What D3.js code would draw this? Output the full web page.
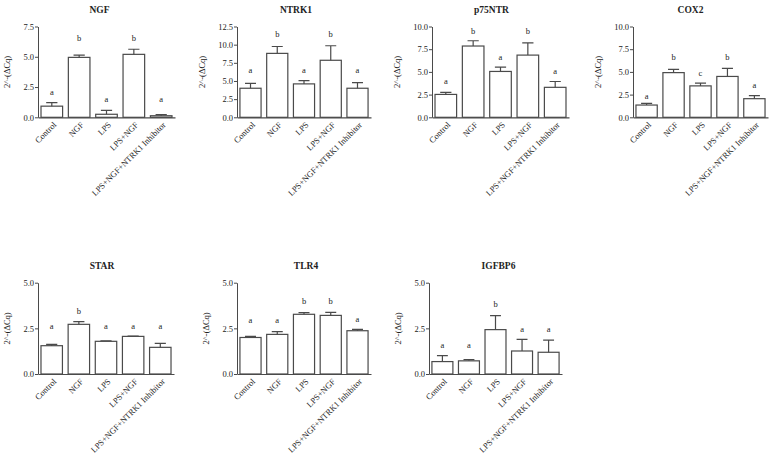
<!DOCTYPE html>
<html>
<head>
<meta charset="utf-8">
<script src="https://cdn.jsdelivr.net/npm/d3@7/dist/d3.min.js"></script>
<style>
  body { margin: 0; background: #fff; }
  svg text { font-family: "Liberation Serif", "DejaVu Serif", serif; fill: #222; }
</style>
</head>
<body>
<div id="chart"></div>
<script>
// groups on the x axis
var groups = ["Control", "NGF", "LPS", "LPS+NGF", "LPS+NGF+NTRK1 Inhibitor"];

// gene panels
var genes   = ["NGF", "NTRK1", "p75NTR", "COX2", "STAR", "TLR4", "IGFBP6"];
var y_max   = [7.5, 12.5, 10, 10, 5, 5, 5];

// mean 2^-(dCq) per group
var means = [
    [0.92, 4.95, 0.25, 5.20, 0.13],
    [4.00, 8.80, 4.60, 7.85, 4.00],
    [2.52, 7.85, 5.05, 6.85, 3.30],
    [1.35, 4.92, 3.46, 4.50, 2.05],
    [1.55, 2.72, 1.79, 2.06, 1.46],
    [2.00, 2.17, 3.27, 3.21, 2.37],
    [0.68, 0.72, 2.43, 1.26, 1.19]
];

// upper error bar (SEM)
var sems = [
    [0.30, 0.18, 0.33, 0.42, 0.10],
    [0.68, 0.95, 0.45, 2.00, 0.76],
    [0.22, 0.58, 0.48, 1.35, 0.64],
    [0.18, 0.36, 0.30, 0.88, 0.33],
    [0.07, 0.15, 0.03, 0.02, 0.22],
    [0.06, 0.15, 0.09, 0.17, 0.07],
    [0.33, 0.07, 0.77, 0.64, 0.66]
];

// significance letters and the value they sit at
var letters = [
    ["a", "b", "a", "b", "a"],
    ["a", "b", "a", "b", "a"],
    ["a", "b", "a", "b", "a"],
    ["a", "b", "c", "b", "a"],
    ["a", "b", "a", "a", "a"],
    ["a", "a", "b", "b", "a"],
    ["a", "a", "b", "a", "a"]
];
var letter_at = [
    [2.03, 6.50, 1.47, 6.50, 1.47],
    [6.50, 11.4, 6.50, 11.4, 6.50],
    [3.90, 9.49, 6.64, 9.49, 5.07],
    [2.26, 6.57, 4.82, 6.57, 3.54],
    [2.63, 3.45, 2.63, 2.63, 2.63],
    [2.92, 2.92, 3.95, 3.95, 3.01],
    [1.57, 1.57, 3.83, 2.45, 2.45]
];

var y_ticks = [0, 2.5, 5, 7.5, 10, 12.5];

// panel placement: axis x range, axis y range, title shift
var layout = [
    {x0: 38,  x1: 175, y0: 26.5,  y1: 117.3, tx: -7},
    {x0: 237, x1: 371, y0: 26.5,  y1: 117.3, tx: -8},
    {x0: 432, x1: 569, y0: 26.5,  y1: 117.3, tx: -9},
    {x0: 633, x1: 768, y0: 26.5,  y1: 117.3, tx: -10},
    {x0: 38,  x1: 174, y0: 282.7, y1: 374,   tx: -4},
    {x0: 237, x1: 371, y0: 282.7, y1: 374,   tx: 2},
    {x0: 429, x1: 562, y0: 282.7, y1: 374,   tx: 3}
];

var W = 775, H = 457;
var ink = "#4a4a4a";

var svg = d3.select("#chart").append("svg")
    .attr("width", W)
    .attr("height", H);

for (var k = 0; k < genes.length; k++) {
    var L = layout[k];

    var x_scale = d3.scaleBand()
        .domain(groups)
        .range([L.x0, L.x1])
        .paddingInner(0.21)
        .paddingOuter(0.11);

    var y_scale = d3.scaleLinear()
        .domain([0, y_max[k]])
        .range([L.y1, L.y0]);

    var g = svg.append("g");

    // title
    g.append("text")
        .attr("x", (L.x0 + L.x1) / 2 + L.tx)
        .attr("y", L.y0 - 14)
        .attr("text-anchor", "middle")
        .attr("font-size", "9.5px")
        .attr("font-weight", "bold")
        .text(genes[k]);

    // y axis
    var ticks = y_ticks.filter(function(t) { return t <= y_max[k] + 1e-9; });
    var y_axis = d3.axisLeft(y_scale)
        .tickValues(ticks)
        .tickFormat(d3.format(".1f"))
        .tickSize(3)
        .tickSizeOuter(0)
        .tickPadding(1);

    var ya = g.append("g")
        .attr("transform", "translate(" + L.x0 + ",0)")
        .call(y_axis);
    ya.selectAll("path, line").attr("stroke", ink);
    ya.selectAll("text")
        .attr("font-size", "8.5px")
        .style("font-family", "Liberation Serif, serif")
        .attr("fill", "#333");

    // y axis title
    var chars = d3.max(ticks, function(t) { return d3.format(".1f")(t).length; });
    g.append("text")
        .attr("transform", "translate(" + (L.x0 - 15 - 4.2 * chars) + "," + ((L.y0 + L.y1) / 2) + ") rotate(-90)")
        .attr("text-anchor", "middle")
        .attr("font-size", "8.5px")
        .text("2^-(\u0394Cq)");

    // bars
    g.selectAll("rect.bar")
        .data(means[k])
        .enter().append("rect")
        .attr("class", "bar")
        .attr("x", function(d, i) { return x_scale(groups[i]); })
        .attr("width", x_scale.bandwidth())
        .attr("y", function(d) { return y_scale(d); })
        .attr("height", function(d) { return y_scale(0) - y_scale(d); })
        .attr("fill", "#fff")
        .attr("stroke", ink)
        .attr("stroke-width", 1.2);

    // error bars (upper only)
    var cap = x_scale.bandwidth() * 0.26;
    var sem = sems[k];
    g.selectAll("path.err")
        .data(means[k])
        .enter().append("path")
        .attr("class", "err")
        .attr("d", function(d, i) {
            var cx = x_scale(groups[i]) + x_scale.bandwidth() / 2;
            var top = y_scale(d + sem[i]);
            return "M" + cx + "," + y_scale(d) + "V" + top +
                   "M" + (cx - cap) + "," + top + "H" + (cx + cap);
        })
        .attr("fill", "none")
        .attr("stroke", ink)
        .attr("stroke-width", 1.2);

    // letters
    var lat = letter_at[k];
    g.selectAll("text.sig")
        .data(letters[k])
        .enter().append("text")
        .attr("class", "sig")
        .attr("x", function(d, i) { return x_scale(groups[i]) + x_scale.bandwidth() / 2; })
        .attr("y", function(d, i) { return y_scale(lat[i]); })
        .attr("dy", "0.3em")
        .attr("text-anchor", "middle")
        .attr("font-size", "8.5px")
        .text(function(d) { return d; });

    // x axis (line only, rotated labels)
    var x_axis = d3.axisBottom(x_scale)
        .tickSize(0)
        .tickSizeOuter(0)
        .tickPadding(0);

    var xa = g.append("g")
        .attr("transform", "translate(0," + L.y1 + ")")
        .call(x_axis);
    xa.select("path.domain").attr("stroke", ink).attr("stroke-width", 1.2);
    xa.selectAll("text")
        .attr("font-size", "8.5px")
        .style("font-family", "Liberation Serif, serif")
        .attr("fill", "#333")
        .attr("text-anchor", "end")
        .attr("transform", "translate(3,6) rotate(-45)")
        .attr("dy", "0.35em")
        .attr("y", 0);
}
</script>
</body>
</html>
